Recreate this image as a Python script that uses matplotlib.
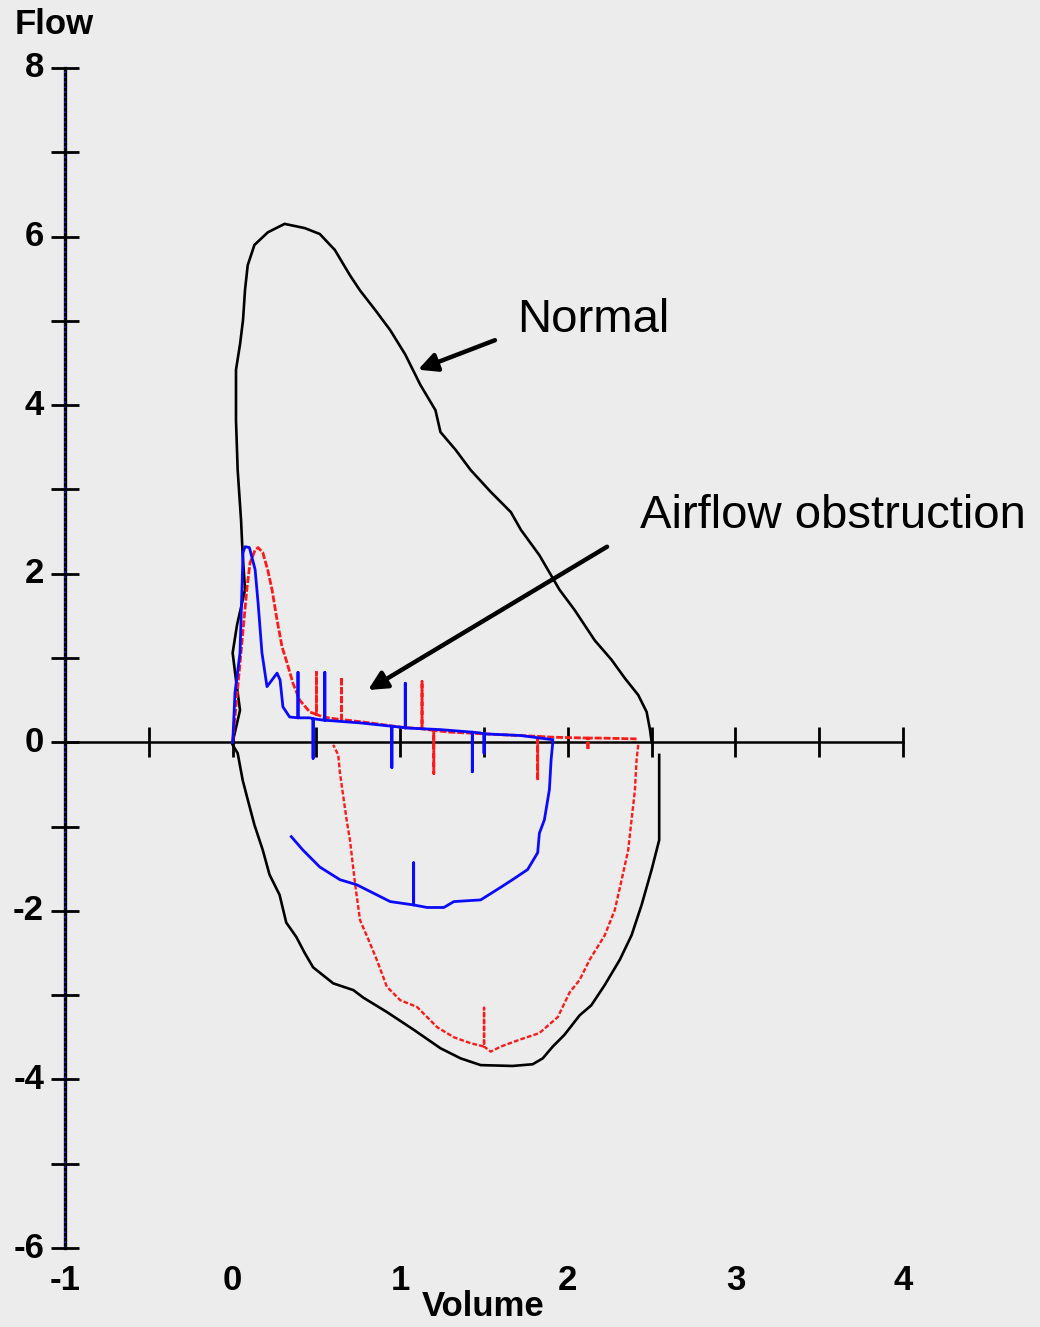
import matplotlib.pyplot as plt
import numpy as np

# normal flow-volume loop (expiration above zero, inspiration below)
normal_exp_vol = [0.00, 0.044, 0.02, 0.00, 0.026, 0.074, 0.06, 0.05, 0.03, 0.02, 0.02, 0.044, 0.062, 0.074,
                  0.09, 0.13, 0.21, 0.31, 0.43, 0.52, 0.61, 0.70, 0.76, 0.85, 0.94, 1.03, 1.12, 1.21, 1.24,
                  1.33, 1.42, 1.54, 1.66, 1.72, 1.83, 1.95, 2.04, 2.16, 2.26, 2.34, 2.42, 2.47, 2.49, 2.50]
normal_exp_flow = [0.00, 0.38, 0.74, 1.06, 1.39, 1.81, 2.22, 2.64, 3.23, 3.82, 4.42, 4.72, 5.01, 5.37,
                   5.66, 5.90, 6.05, 6.15, 6.10, 6.03, 5.84, 5.54, 5.36, 5.13, 4.89, 4.60, 4.24, 3.94, 3.68,
                   3.47, 3.23, 2.97, 2.73, 2.52, 2.22, 1.81, 1.57, 1.21, 0.98, 0.76, 0.56, 0.36, 0.15, 0.00]
normal_insp_vol = [2.545, 2.545, 2.545, 2.50, 2.44, 2.38, 2.31, 2.22, 2.14, 2.07, 1.98, 1.91, 1.85, 1.79,
                   1.67, 1.48, 1.36, 1.24, 1.08, 0.92, 0.78, 0.72, 0.60, 0.48, 0.43, 0.38, 0.32, 0.28, 0.22,
                   0.18, 0.13, 0.09, 0.06, 0.03, 0.00]
normal_insp_flow = [-0.15, -0.68, -1.16, -1.51, -1.93, -2.29, -2.58, -2.88, -3.12, -3.24, -3.47, -3.61,
                    -3.75, -3.82, -3.84, -3.83, -3.75, -3.63, -3.41, -3.20, -3.03, -2.94, -2.86, -2.67,
                    -2.50, -2.31, -2.14, -1.81, -1.57, -1.28, -0.98, -0.68, -0.45, -0.13, -0.03]

# airflow obstruction, trial 1 (blue), artefact spikes kept in the trace
blue_exp_vol = [0.00, 0.002, 0.014, 0.044, 0.056, 0.062, 0.074, 0.10, 0.134, 0.152, 0.175, 0.205, 0.235,
                0.265, 0.283, 0.30, 0.34, 0.39, 0.39, 0.39, 0.40, 0.46, 0.48, 0.48, 0.48, 0.55, 0.55, 0.55,
                0.56, 0.76, 0.95, 0.95, 0.95, 1.00, 1.03, 1.03, 1.03, 1.24, 1.43, 1.43, 1.43, 1.48, 1.50,
                1.50, 1.50, 1.72, 1.91]
blue_exp_flow = [0.00, 0.06, 0.59, 1.06, 1.85, 2.25, 2.32, 2.31, 2.05, 1.65, 1.06, 0.66, 0.74,
                 0.82, 0.74, 0.42, 0.30, 0.29, 0.83, 0.29, 0.29, 0.29, 0.28, -0.19, 0.28, 0.26, 0.83, 0.26,
                 0.26, 0.23, 0.19, -0.30, 0.19, 0.18, 0.17, 0.70, 0.17, 0.15, 0.12, -0.35, 0.12, 0.11, 0.10,
                 -0.13, 0.10, 0.08, 0.03]
blue_insp_vol = [1.91, 1.90, 1.89, 1.86, 1.83, 1.82, 1.76, 1.67, 1.60, 1.48, 1.32, 1.26, 1.16, 1.08, 1.08,
                 1.08, 0.94, 0.88, 0.74, 0.64, 0.52, 0.42, 0.35]
blue_insp_flow = [0.00, -0.21, -0.56, -0.92, -1.08, -1.31, -1.51, -1.63, -1.72, -1.87, -1.89, -1.96, -1.96,
                  -1.93, -1.43, -1.93, -1.89, -1.83, -1.69, -1.63, -1.48, -1.28, -1.12]

# airflow obstruction, trial 2 (red)
red_exp_vol = [0.00, 0.014, 0.044, 0.062, 0.086, 0.104, 0.134, 0.152, 0.18, 0.21, 0.235, 0.265, 0.295,
               0.325, 0.36, 0.40, 0.46, 0.50, 0.50, 0.50, 0.54, 0.64, 0.65, 0.65, 0.65, 0.82, 1.00, 1.13,
               1.13, 1.13, 1.20, 1.20, 1.20, 1.30, 1.60, 1.82, 1.82, 1.82, 1.91, 2.12, 2.12, 2.12, 2.19,
               2.41]
red_exp_flow = [0.00, 0.30, 0.94, 1.33, 1.84, 2.13, 2.28, 2.31, 2.25, 2.04, 1.81, 1.45, 1.13,
                0.94, 0.70, 0.50, 0.36, 0.33, 0.83, 0.33, 0.30, 0.27, 0.27, 0.77, 0.27, 0.23, 0.18, 0.16,
                0.72, 0.16, 0.14, -0.37, 0.14, 0.12, 0.09, 0.07, -0.45, 0.07, 0.06, 0.05, -0.09, 0.05, 0.05,
                0.04]
red_insp_vol = [2.42, 2.41, 2.40, 2.38, 2.36, 2.32, 2.28, 2.22, 2.13, 2.07, 2.01, 1.94, 1.83, 1.71, 1.60,
                1.54, 1.50, 1.50, 1.50, 1.42, 1.32, 1.22, 1.10, 1.00, 0.92, 0.86, 0.81, 0.76, 0.73, 0.70,
                0.68, 0.64, 0.63, 0.60]
red_insp_flow = [-0.03, -0.21, -0.57, -0.92, -1.28, -1.64, -1.99, -2.29, -2.58, -2.82, -2.97, -3.26, -3.45,
                 -3.53, -3.61, -3.67, -3.61, -3.15, -3.61, -3.57, -3.50, -3.38, -3.14, -3.06, -2.90, -2.58,
                 -2.34, -2.11, -1.67, -1.16, -0.92, -0.36, -0.15, -0.03]

x_ticks = np.arange(-0.5, 4.01, 0.5)
x_labels = [-1, 0, 1, 2, 3, 4]
y_minor = np.arange(-6, 9, 1)
y_labels = [8, 6, 4, 2, 0, -2, -4, -6]

bg = '#ececec'
fig = plt.figure(figsize=(10.4, 13.27), dpi=100, facecolor=bg)
ax = fig.add_axes([0, 0, 1, 1], facecolor=bg)
ax.set_xlim(-1.388, 4.817)
ax.set_ylim(-6.937, 8.806)
ax.axis('off')

bold = dict(family='Liberation Sans', fontweight='bold', fontsize=25, color='black')

# axis lines and ticks
ax.plot([-1, 4], [0, 0], color='black', lw=1.8, zorder=2)
ax.plot([-1, -1], [-6, 8], color='black', lw=2.4, zorder=2)
ax.plot([-1, -1], [-6, 8], color='#2020d0', lw=1.2, ls=(0, (1, 2)), zorder=2)
ax.plot(x_ticks, np.zeros_like(x_ticks), ls='none', marker='|', ms=22, mew=2, color='black', zorder=2)
ax.plot(np.full_like(y_minor, -1.0, dtype=float), y_minor, ls='none', marker='_', ms=20, mew=2,
        color='black', zorder=2)

for v in y_labels:
    ax.text(-1.125, v, str(v), ha='right', va='center', **bold)
for v in x_labels:
    ax.text(v, -6.38, str(v), ha='center', va='center', **bold)
ax.text(-1.30, 8.51, 'Flow', ha='left', va='center', **bold)
ax.text(1.494, -6.69, 'Volume', ha='center', va='center', **bold)

# loops
ax.plot(normal_exp_vol, normal_exp_flow, color='black', lw=1.9, zorder=3)
ax.plot(normal_insp_vol, normal_insp_flow, color='black', lw=1.9, zorder=3)
ax.plot(red_exp_vol, red_exp_flow, color='#ff1a1a', lw=2.0, ls=(0, (2.5, 0.7)), zorder=4)
ax.plot(red_insp_vol, red_insp_flow, color='#ff1a1a', lw=1.7, ls=(0, (2, 0.9)), zorder=4)
ax.plot(blue_exp_vol, blue_exp_flow, color='#0a0aff', lw=2.0, zorder=5)
ax.plot(blue_insp_vol, blue_insp_flow, color='#0a0aff', lw=2.0, zorder=5)

# annotations
arrow = dict(arrowstyle='-|>', color='black', lw=3.2, mutation_scale=28, shrinkA=0, shrinkB=0)
ax.annotate('', xy=(1.106, 4.42), xytext=(1.565, 4.77), arrowprops=arrow, zorder=6)
ax.annotate('', xy=(0.808, 0.62), xytext=(2.234, 2.32), arrowprops=arrow, zorder=6)
ax.text(1.697, 5.01, 'Normal', ha='left', va='center', family='Liberation Sans', fontsize=34)
ax.text(2.431, 2.685, 'Airflow obstruction', ha='left', va='center', family='Liberation Sans', fontsize=34)

fig.savefig('out.png', dpi=100, facecolor=bg)
